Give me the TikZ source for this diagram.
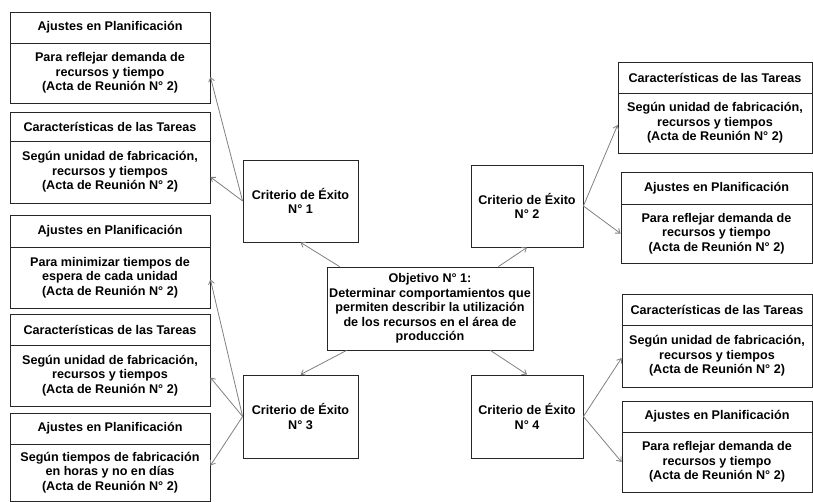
\documentclass[tikz,border=0pt]{standalone}
\usepackage{fontspec}
\setmainfont{Liberation Sans}
\usetikzlibrary{arrows.meta,calc}
\tikzset{
  boxline/.style={draw=black!85, line width=0.8pt, fill=white, inner sep=0pt, align=center,
    font=\fontsize{12.6}{14.6}\selectfont\bfseries},
  conn/.style={draw=black!50, line width=0.8pt, -{Straight Barb[length=4pt,width=6pt]}},
}
\newcommand{\bx}[5]{% name, cx, cy, w, h
  \node[boxline, minimum width=#4pt, minimum height=#5pt] (#1) at (#2,#3)}
\begin{document}
\begin{tikzpicture}[x=1pt,y=-1pt]
\useasboundingbox (0,0) rectangle (813,502);
% left column
\bx{l1h}{110}{27.5}{200}{31} {Ajustes en Planificación};
\bx{l1b}{110}{73}{200}{60} {Para reflejar demanda de\\recursos y tiempo\\(Acta de Reunión N° 2)};
\bx{l2h}{110}{126.5}{200}{29} {Características de las Tareas};
\bx{l2b}{110}{172}{200}{62} {Según unidad de fabricación,\\recursos y tiempos\\(Acta de Reunión N° 2)};
\bx{l3h}{110}{231}{200}{32} {Ajustes en Planificación};
\bx{l3b}{110}{277.5}{200}{61} {Para minimizar tiempos de\\espera de cada unidad\\(Acta de Reunión N° 2)};
\bx{l4h}{110}{329.5}{200}{31} {Características de las Tareas};
\bx{l4b}{110}{375.5}{200}{61} {Según unidad de fabricación,\\recursos y tiempos\\(Acta de Reunión N° 2)};
\bx{l5h}{110}{428.5}{200}{31} {Ajustes en Planificación};
\bx{l5b}{110}{472.5}{200}{57} {Según tiempos de fabricación\\en horas y no en días\\(Acta de Reunión N° 2)};
% right column
\bx{r1h}{715}{77.5}{194}{31} {Características de las Tareas};
\bx{r1b}{715}{123}{194}{60} {Según unidad de fabricación,\\recursos y tiempos\\(Acta de Reunión N° 2)};
\bx{r2h}{716.5}{188}{191}{32} {Ajustes en Planificación};
\bx{r2b}{716.5}{233.5}{191}{59} {Para reflejar demanda de\\recursos y tiempo\\(Acta de Reunión N° 2)};
\bx{r3h}{717}{309.5}{190}{31} {Características de las Tareas};
\bx{r3b}{717}{356}{190}{62} {Según unidad de fabricación,\\recursos y tiempos\\(Acta de Reunión N° 2)};
\bx{r4h}{717}{416.5}{190}{31} {Ajustes en Planificación};
\bx{r4b}{717}{462}{190}{60} {Para reflejar demanda de\\recursos y tiempo\\(Acta de Reunión N° 2)};
% criteria
\bx{c1}{300.5}{201}{115}{82} {Criterio de Éxito\\N° 1};
\bx{c2}{527}{206}{112}{82} {Criterio de Éxito\\N° 2};
\bx{c3}{300.5}{416.5}{115}{83} {Criterio de Éxito\\N° 3};
\bx{c4}{527}{416.5}{112}{83} {Criterio de Éxito\\N° 4};
\bx{obj}{430}{308.5}{206}{83} {Objetivo N° 1:\\Determinar comportamientos que\\permiten describir la utilización\\de los recursos en el área de\\producción};
% connectors
\draw[conn] ($(obj.north west)+(13,0)$) -- (c1.south);
\draw[conn] ($(obj.north east)+(-35,0)$) -- (c2.south);
\draw[conn] ($(obj.south west)+(20,0)$) -- (c3.north);
\draw[conn] ($(obj.south east)+(-43,0)$) -- (c4.north);
\draw[conn] (c1.west) -- ($(l1b.east)+(0,4)$);
\draw[conn] (c1.west) -- ($(l2b.east)+(0,5)$);
\draw[conn] (c3.west) -- ($(l3b.east)+(0,2)$);
\draw[conn] (c3.west) -- ($(l4b.east)+(0,2)$);
\draw[conn] (c3.west) -- ($(l5b.east)+(0,-7)$);
\draw[conn] (c2.east) -- ($(r1b.west)+(0,2)$);
\draw[conn] (c2.east) -- (r2b.west);
\draw[conn] (c4.east) -- ($(r3b.west)+(0,2)$);
\draw[conn] (c4.east) -- (r4b.west);
\end{tikzpicture}
\end{document}
